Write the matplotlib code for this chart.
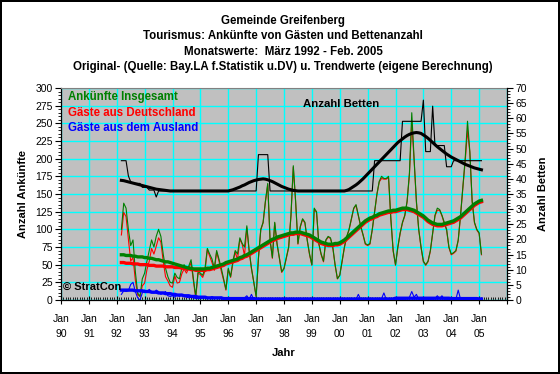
import numpy as np
import pandas as pd
import matplotlib
matplotlib.use("Agg")
import matplotlib.pyplot as plt
from matplotlib.ticker import MultipleLocator

plt.rcParams["font.family"] = ["Liberation Sans", "DejaVu Sans"]

# monthly values Mar 1992 - Feb 2005
start = "1992-03-01"
n_months = 156

total = [100, 137, 130, 100, 77, 85, 40, 10, 5, 30,
         38, 55, 70, 85, 75, 90, 100, 90, 65, 45, 33, 25,
         24, 38, 32, 30, 45, 50, 42, 48, 57, 30, 5, 40,
         38, 35, 45, 73, 65, 58, 45, 70, 58, 45, 30, 15,
         45, 33, 55, 70, 65, 88, 80, 75, 105, 70, 45, 25,
         5, 60, 100, 110, 140, 165, 85, 60, 110, 80, 60, 40,
         45, 60, 75, 120, 190, 140, 80, 104, 115, 110, 85, 65,
         50, 130, 125, 80, 65, 55, 85, 90, 88, 75, 50, 30,
         35, 55, 75, 90, 100, 115, 130, 135, 120, 105, 93, 80,
         78, 80, 100, 125, 150, 168, 175, 172, 172, 175, 115, 70,
         50, 75, 95, 110, 120, 140, 180, 265, 200, 140, 100, 75,
         55, 50, 55, 70, 95, 120, 130, 128, 120, 110, 100, 75,
         65, 67, 70, 85, 120, 160, 200, 253, 210, 140, 110, 100,
         95, 65]

germany = [92, 124, 118, 87, 55, 60, 28, 7, 5, 20,
           24, 43, 55, 73, 65, 76, 88, 82, 55, 33, 27, 20,
           18, 34, 24, 25, 37, 44, 38, 45, 53, 27, 3, 38,
           36, 32, 41, 71, 62, 53, 42, 68, 55, 41, 28, 14,
           43, 32, 52, 68, 57, 86, 79, 63, 102, 69, 44, 25,
           5, 59, 99, 109, 139, 163, 84, 59, 109, 79, 59, 39,
           44, 59, 74, 119, 188, 139, 79, 103, 114, 109, 84, 64,
           49, 128, 124, 79, 64, 54, 84, 89, 87, 74, 49, 30,
           35, 54, 74, 89, 99, 114, 129, 134, 119, 104, 92, 79,
           77, 79, 99, 124, 149, 167, 172, 171, 171, 173, 114, 69,
           49, 74, 94, 109, 119, 139, 177, 252, 198, 138, 99, 74,
           54, 49, 54, 69, 94, 119, 127, 127, 119, 108, 99, 74,
           64, 66, 69, 84, 119, 159, 196, 240, 209, 139, 109, 99,
           94, 64]

abroad = [8, 13, 12, 13, 22, 25, 12, 3, 0, 10,
          14, 12, 15, 12, 10, 14, 12, 8, 10, 12, 6, 5,
          6, 4, 8, 5, 8, 6, 4, 3, 4, 3, 2, 2,
          2, 3, 4, 2, 3, 5, 3, 2, 3, 4, 2, 1,
          2, 1, 3, 2, 3, 2, 1, 3, 6, 1, 8, 0,
          0, 1, 1, 1, 1, 2, 1, 1, 1, 1, 1, 1,
          1, 1, 1, 1, 2, 1, 1, 1, 1, 1, 1, 0,
          1, 2, 1, 1, 1, 1, 1, 1, 1, 1, 1, 0,
          0, 1, 1, 1, 1, 1, 1, 1, 8, 1, 1, 1,
          1, 1, 1, 1, 1, 1, 2, 10, 1, 2, 1, 1,
          1, 1, 1, 1, 1, 2, 4, 12, 4, 8, 1, 1,
          1, 1, 1, 1, 1, 2, 6, 2, 6, 1, 1, 1,
          1, 1, 1, 14, 1, 1, 1, 1, 1, 1, 1, 1,
          1, 1]

total_trend = [64, 64, 63, 63, 63, 62, 62, 61, 61, 61,
               60, 60, 59, 59, 58, 57, 57, 56, 55, 54, 54, 53,
               52, 51, 50, 49, 48, 47, 46, 45, 45, 44, 44, 44,
               44, 44, 44, 45, 45, 46, 47, 48, 49, 50, 51, 53,
               54, 55, 56, 57, 58, 60, 61, 63, 64, 66, 68, 70,
               72, 74, 76, 78, 80, 82, 84, 86, 87, 89, 90, 91,
               92, 93, 94, 95, 95, 96, 96, 96, 95, 94, 93, 92,
               90, 88, 86, 84, 82, 81, 80, 79, 79, 79, 80, 80,
               81, 83, 85, 88, 91, 94, 97, 100, 103, 106, 109, 112,
               114, 116, 117, 119, 120, 122, 123, 124, 125, 126, 126, 127,
               127, 128, 129, 130, 130, 130, 129, 128, 127, 125, 123, 121,
               119, 116, 113, 111, 109, 108, 107, 107, 107, 108, 109, 110,
               111, 112, 114, 116, 118, 121, 124, 127, 130, 133, 136, 138,
               140, 141]

germany_trend = [53, 53, 52, 52, 52, 51, 51, 51, 50, 50,
                 50, 50, 49, 49, 49, 48, 48, 48, 48, 47, 47, 47,
                 47, 46, 46, 46, 45, 45, 44, 44, 43, 43, 42, 42,
                 42, 42, 42, 43, 43, 44, 45, 46, 47, 48, 49, 51,
                 52, 53, 54, 55, 56, 58, 59, 61, 62, 64, 66, 68,
                 70, 72, 74, 76, 78, 80, 82, 84, 85, 87, 88, 89,
                 90, 91, 92, 93, 93, 94, 94, 94, 93, 92, 91, 90,
                 88, 86, 84, 82, 80, 79, 78, 77, 77, 77, 78, 78,
                 79, 81, 83, 86, 89, 92, 95, 98, 101, 104, 107, 110,
                 112, 114, 115, 117, 118, 120, 121, 122, 123, 124, 124, 125,
                 125, 126, 127, 128, 128, 128, 127, 126, 125, 123, 121, 119,
                 117, 114, 111, 109, 107, 106, 105, 105, 105, 106, 107, 108,
                 109, 110, 112, 114, 116, 119, 122, 125, 128, 131, 134, 136,
                 138, 139]

abroad_trend = [14, 14, 14, 14, 14, 14, 13, 13, 13, 13,
                12, 12, 12, 11, 11, 11, 10, 10, 10, 9, 9, 9,
                8, 8, 7, 7, 7, 6, 6, 6, 5, 5, 5, 4,
                4, 4, 4, 3, 3, 3, 3, 3, 3, 3, 2, 2,
                2, 2, 2, 2, 2, 2, 2, 2, 2, 2, 2, 2,
                1.5, 1.5, 1.5, 1.5, 1.5, 1.5, 1.5, 1.5, 1.5, 1.5, 1.5, 1.5,
                1.5, 1.5, 1.5, 1.5, 1.5, 1.5, 1.5, 1.5, 1.5, 1.5, 1.5, 1.5,
                1.5, 1.5, 1.5, 1.5, 1.5, 1.5, 1.5, 1.5, 1.5, 1.5, 1.5, 1.5,
                1.5, 1.5, 1.5, 1.5, 1.5, 1.5, 1.5, 1.5, 1.5, 1.5, 1.5, 1.5,
                1.5, 1.5, 1.5, 1.5, 1.5, 1.5, 1.5, 1.5, 1.5, 1.5, 1.5, 1.5,
                2.5, 2.5, 2.5, 2.5, 2.5, 2.5, 2.5, 2.5, 2.5, 2.5, 2.5, 2.5,
                2.5, 2.5, 2.5, 2.5, 2.5, 2.5, 2.5, 2.5, 2.5, 2.5, 2.5, 2.5,
                2, 2, 2, 2, 2, 2, 2, 2, 2, 2, 2, 2,
                1.5, 1.5]

beds = [46, 46, 46, 41, 39, 38.5, 38.5, 38.5, 38.5, 37.2,
        37.2, 37.2, 36.3, 36.3, 36.3, 34, 36, 36, 36, 36, 36, 36,
        36, 36, 36, 36, 36, 36, 36, 36, 36, 36, 36, 36,
        36, 36, 36, 36, 36, 36, 36, 36, 36, 36, 36, 36,
        36, 36, 36, 36, 36, 36, 36, 36, 36, 36, 36, 36,
        36, 48, 48, 48, 48, 48, 36, 36, 36, 36, 36, 36,
        36, 36, 36, 36, 36, 36, 36, 36, 36, 36, 36, 36,
        36, 36, 36, 36, 36, 36, 36, 36, 36, 36, 36, 36,
        36, 36, 36, 36, 36, 36, 36, 36, 36, 36, 36, 36,
        36, 36, 36, 46, 46, 46, 46, 46, 46, 46, 46, 46,
        46, 46, 46, 59, 59, 59, 59, 59, 59, 59, 59, 59,
        66, 49, 49, 49, 64, 51, 51, 51, 51, 51, 44, 44,
        44, 46, 46, 46, 46, 46, 46, 46, 46, 46, 46, 46,
        46, 46]

beds_trend = [39.5, 39.4, 39.2, 39, 38.8, 38.6, 38.4, 38.2, 38, 37.8,
              37.6, 37.4, 37.2, 37, 36.8, 36.6, 36.5, 36.4, 36.3, 36.2, 36.1, 36,
              36, 36, 36, 36, 36, 36, 36, 36, 36, 36, 36, 36,
              36, 36, 36, 36, 36, 36, 36, 36, 36, 36, 36, 36,
              36, 36.2, 36.4, 36.7, 37, 37.3, 37.7, 38, 38.4, 38.8, 39.1, 39.4,
              39.6, 39.8, 39.9, 40, 39.9, 39.7, 39.4, 39.1, 38.7, 38.3, 37.9, 37.5,
              37.2, 36.9, 36.6, 36.4, 36.2, 36.1, 36, 36, 36, 36, 36, 36,
              36, 36, 36, 36, 36, 36, 36, 36, 36, 36, 36, 36,
              36, 36, 36, 36.2, 36.5, 37, 37.5, 38, 38.6, 39.3, 40, 40.8,
              41.6, 42.4, 43.2, 44, 44.8, 45.6, 46.4, 47.2, 48, 48.8, 49.6, 50.4,
              51.2, 52, 52.6, 53.2, 53.8, 54.3, 54.7, 55, 55.2, 55.3, 55.2, 55,
              54.5, 54, 53.4, 52.7, 52, 51.3, 50.6, 50, 49.4, 48.8, 48.2, 47.7,
              47.2, 46.8, 46.4, 46, 45.6, 45.2, 44.8, 44.5, 44.2, 43.9, 43.6, 43.4,
              43.2, 43]

year_ticks = list(range(1990, 2007))
year_labels = ["Jan\n%02d" % (y % 100) for y in range(1990, 2006)] + [""]

dates = pd.date_range(start, periods=n_months, freq="MS")
t = dates.year + (dates.month - 1) / 12.0

fig = plt.figure(figsize=(5.6, 3.74), dpi=100)
fig.patch.set_facecolor("white")
fig.patch.set_edgecolor("black")
fig.patch.set_linewidth(1.5)

ax = fig.add_axes([61 / 560, 74 / 374, 446 / 560, 212 / 374])
ax.set_facecolor("#C0C0C0")
ax.set_xlim(1990, 2006)
ax.set_ylim(0, 300)
ax.set_xticks(year_ticks)
ax.set_xticklabels(year_labels, fontsize=7.5, linespacing=1.6)
ax.xaxis.set_minor_locator(MultipleLocator(1 / 12))
ax.yaxis.set_major_locator(MultipleLocator(25))
ax.yaxis.set_minor_locator(MultipleLocator(5))
ax.tick_params(axis="x", which="major", direction="inout", length=6, width=0.8, pad=7)
ax.tick_params(axis="x", which="minor", direction="in", length=2, width=0.6)
ax.tick_params(axis="y", which="major", direction="out", length=4, width=0.8, labelsize=7.5, pad=2)
ax.tick_params(axis="y", which="minor", direction="out", length=2, width=0.6)
ax.grid(True, which="major", color="#00FFFF", linewidth=1.0)
ax.set_axisbelow(True)
for s in ["left", "bottom"]:
    ax.spines[s].set_linewidth(0.9)
ax.spines["top"].set_color("#808080")
ax.spines["right"].set_visible(False)

ax.plot(t, germany, color="#FF0000", lw=0.8, zorder=3)
ax.plot(t, total, color="#008000", lw=0.8, zorder=3)
ax.plot(t, abroad, color="#0000FF", lw=0.8, zorder=3)
ax.plot(t, germany_trend, color="#FF0000", lw=2.4, zorder=4)
ax.plot(t, total_trend, color="#008000", lw=2.4, zorder=4)
ax.plot(t, abroad_trend, color="#0000FF", lw=2.4, zorder=4)

ax2 = ax.twinx()
ax2.set_ylim(0, 70)
ax2.set_xlim(1990, 2006)
ax2.yaxis.set_major_locator(MultipleLocator(5))
ax2.yaxis.set_minor_locator(MultipleLocator(1))
ax2.tick_params(axis="y", which="major", direction="out", length=4, width=0.8, labelsize=7.5, pad=2)
ax2.tick_params(axis="y", which="minor", direction="out", length=2, width=0.6)
ax2.spines["right"].set_linewidth(0.9)
ax2.spines["top"].set_visible(False)
ax2.spines["left"].set_visible(False)
ax2.spines["bottom"].set_visible(False)
ax2.plot(t, beds, color="black", lw=0.8)
ax2.plot(t, beds_trend, color="black", lw=2.2)

ax.set_ylabel("Anzahl Ankünfte", fontsize=8, fontweight="bold", labelpad=5)
ax2.set_ylabel("Anzahl Betten", fontsize=8, fontweight="bold", labelpad=8)
ax.set_xlabel("Jahr", fontsize=8, fontweight="bold", labelpad=7)

titles = ["Gemeinde Greifenberg",
          "Tourismus: Ankünfte von Gästen und Bettenanzahl",
          "Monatswerte:  März 1992 - Feb. 2005",
          "Original- (Quelle: Bay.LA f.Statistik u.DV) u. Trendwerte (eigene Berechnung)"]
for i, line in enumerate(titles):
    fig.text(283 / 560, 1 - (21 + 15.3 * i) / 374, line, ha="center", va="center",
             fontsize=8.3, fontweight="bold")

legend_items = [("Ankünfte Insgesamt", "#008000"),
                ("Gäste aus Deutschland", "#FF0000"),
                ("Gäste aus dem Ausland", "#0000FF")]
for i, (name, col) in enumerate(legend_items):
    fig.text(68 / 560, 1 - (97 + 15.5 * i) / 374, name, ha="left", va="center",
             fontsize=8.3, fontweight="bold", color=col)
fig.text(303 / 560, 1 - 104 / 374, "Anzahl Betten", ha="left", va="center",
         fontsize=8.2, fontweight="bold", color="black")
fig.text(63 / 560, 1 - 287 / 374, "© StratCon", ha="left", va="center",
         fontsize=8, fontweight="bold", color="black")

fig.savefig("out.png", dpi=100, facecolor=fig.get_facecolor(), edgecolor=fig.get_edgecolor())
